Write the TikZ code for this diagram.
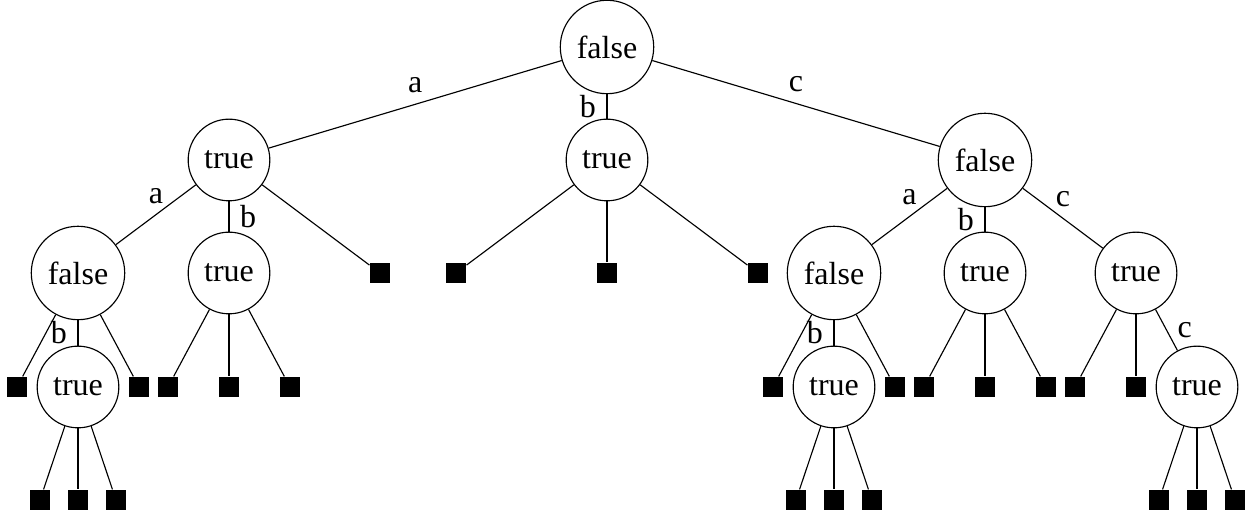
\documentclass[tikz,border=0pt]{standalone}
\usepackage{fontspec}
\setmainfont{Liberation Serif}[Scale=1.12]
\usetikzlibrary{shapes}

\begin{document}
\begin{tikzpicture}[x=0.35pt,y=-0.35pt,
  st/.style={circle,draw,inner sep=3.8pt,minimum size=28pt},
  lf/.style={rectangle,fill=black,minimum size=7pt,inner sep=0pt}]
\useasboundingbox (0,0) rectangle (1245,512);
% level 0
\node [st] (r) at (607,47) {false};
% level 1
\node [st] (a) at (229,160) {true};
\node [st] (b) at (607,160) {true};
\node [st] (c) at (985,160) {false};
% level 2
\node [st] (aa) at (78,273) {false};
\node [st] (ab) at (229,273) {true};
\node [lf] (ac) at (380,273) {};
\node [lf] (ba) at (456,273) {};
\node [lf] (bb) at (607,273) {};
\node [lf] (bc) at (758,273) {};
\node [st] (ca) at (834,273) {false};
\node [st] (cb) at (985,273) {true};
\node [st] (cc) at (1136,273) {true};
% level 3
\node [lf] (aaa) at (17,387) {};
\node [st] (aab) at (78,387) {true};
\node [lf] (aac) at (139,387) {};
\node [lf] (aba) at (168,387) {};
\node [lf] (abb) at (229,387) {};
\node [lf] (abc) at (290,387) {};
\node [lf] (caa) at (773,387) {};
\node [st] (cab) at (834,387) {true};
\node [lf] (cac) at (895,387) {};
\node [lf] (cba) at (924,387) {};
\node [lf] (cbb) at (985,387) {};
\node [lf] (cbc) at (1046,387) {};
\node [lf] (cca) at (1075,387) {};
\node [lf] (ccb) at (1136,387) {};
\node [st] (ccc) at (1197,387) {true};
% level 4
\node [lf] (aaba) at (40,500) {};
\node [lf] (aabb) at (78,500) {};
\node [lf] (aabc) at (116,500) {};
\node [lf] (caba) at (796,500) {};
\node [lf] (cabb) at (834,500) {};
\node [lf] (cabc) at (872,500) {};
\node [lf] (ccca) at (1159,500) {};
\node [lf] (cccb) at (1197,500) {};
\node [lf] (cccc) at (1235,500) {};

\draw (r) -- node[above] {a} (a);
\draw (r) -- node[left] {b} (b);
\draw (r) -- node[above] {c} (c);
\draw (a) -- node[above] {a} (aa);
\draw (a) -- node[right] {b} (ab);
\draw (a) -- (ac);
\draw (b) -- (ba);
\draw (b) -- (bb);
\draw (b) -- (bc);
\draw (c) -- node[above] {a} (ca);
\draw (c) -- node[left] {b} (cb);
\draw (c) -- node[above] {c} (cc);
\draw (aa) -- (aaa);
\draw (aa) -- node[left] {b} (aab);
\draw (aa) -- (aac);
\draw (ab) -- (aba);
\draw (ab) -- (abb);
\draw (ab) -- (abc);
\draw (ca) -- (caa);
\draw (ca) -- node[left] {b} (cab);
\draw (ca) -- (cac);
\draw (cb) -- (cba);
\draw (cb) -- (cbb);
\draw (cb) -- (cbc);
\draw (cc) -- (cca);
\draw (cc) -- (ccb);
\draw (cc) -- node[right] {c} (ccc);
\draw (aab) -- (aaba);
\draw (aab) -- (aabb);
\draw (aab) -- (aabc);
\draw (cab) -- (caba);
\draw (cab) -- (cabb);
\draw (cab) -- (cabc);
\draw (ccc) -- (ccca);
\draw (ccc) -- (cccb);
\draw (ccc) -- (cccc);
\end{tikzpicture}
\end{document}
